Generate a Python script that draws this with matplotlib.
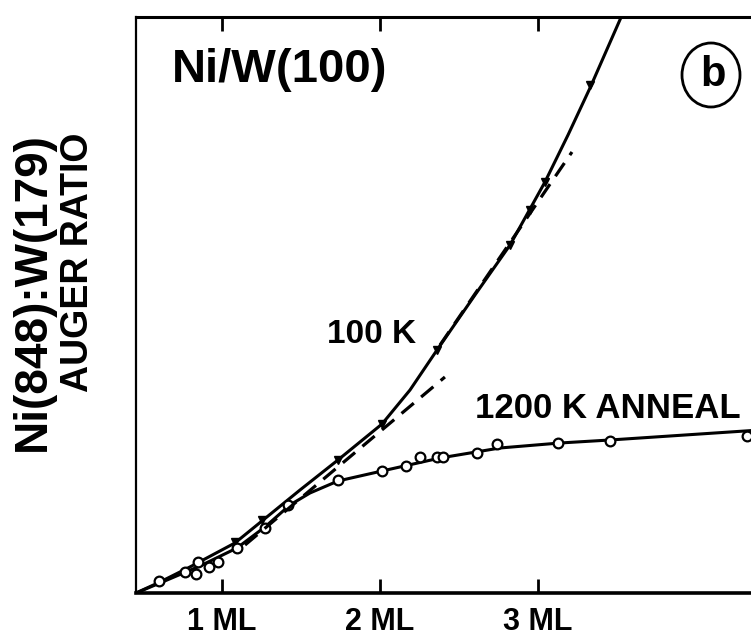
import matplotlib
matplotlib.use("Agg")
from matplotlib import pyplot as plt
from matplotlib.patches import Ellipse
import numpy as np

plt.rcParams["font.family"] = ["Liberation Sans", "DejaVu Sans"]
plt.rcParams["font.weight"] = "bold"

# coverage in ML, Auger ratio in arbitrary units
# 100 K deposition: measured points and hand-drawn curve
pts_100k_x = [1.082, 1.253, 1.734, 2.013, 2.361, 2.823, 2.949, 3.044, 3.329]
pts_100k_y = [0.51, 0.73, 1.33, 1.69, 2.43, 3.48, 3.83, 4.11, 5.08]
curve_100k_x = [0.456, 0.608, 0.797, 1.082, 1.253, 1.494, 1.734, 2.013, 2.190,
                2.361, 2.601, 2.823, 3.044, 3.190, 3.329, 3.532]
curve_100k_y = [0.0, 0.11, 0.26, 0.50, 0.72, 1.03, 1.33, 1.69, 2.03,
                2.43, 2.98, 3.48, 4.11, 4.58, 5.05, 5.78]

# 1200 K anneal
pts_1200k_x = [0.601, 0.766, 0.835, 0.848, 0.918, 0.975, 1.095, 1.272, 1.418,
               1.734, 2.013, 2.165, 2.253, 2.361, 2.399, 2.614, 2.741, 3.127,
               3.456, 4.323]
pts_1200k_y = [0.12, 0.21, 0.19, 0.31, 0.26, 0.31, 0.45, 0.65, 0.88,
               1.13, 1.22, 1.27, 1.36, 1.36, 1.36, 1.40, 1.49, 1.50,
               1.52, 1.57]
curve_1200k_x = [0.456, 0.608, 0.861, 1.095, 1.272, 1.430, 1.557, 1.734, 2.013,
                 2.380, 2.759, 3.139, 3.456, 4.405]
curve_1200k_y = [0.0, 0.10, 0.27, 0.45, 0.66, 0.88, 1.00, 1.12, 1.22,
                 1.35, 1.45, 1.50, 1.53, 1.63]

# dashed linear extrapolations (layer-by-layer breaks)
dash1_x = [1.146, 2.411]
dash1_y = [0.48, 2.16]
dash2_x = [2.380, 3.215]
dash2_y = [2.48, 4.41]

tick_pos = [1, 2, 3]
tick_labels = ["1 ML", "2 ML", "3 ML"]

fig = plt.figure(figsize=(7.51, 6.39), dpi=100)
ax = fig.add_axes([0.1811, 0.0720, 0.8309, 0.9014])

ax.plot(curve_100k_x, curve_100k_y, color="black", lw=2.2)
ax.plot(pts_100k_x, pts_100k_y, ls="none", marker="v", ms=6, color="black")
ax.plot(curve_1200k_x, curve_1200k_y, color="black", lw=2.2)
ax.plot(pts_1200k_x, pts_1200k_y, ls="none", marker="o", ms=7,
        mfc="white", mec="black", mew=1.6)
ax.plot(dash1_x, dash1_y, color="black", lw=2.3, ls=(0, (5, 3)))
ax.plot(dash2_x, dash2_y, color="black", lw=2.3, ls=(0, (5, 3)))

ax.set_xlim(0.456, 4.405)
ax.set_ylim(0, 5.76)
ax.set_xticks(tick_pos)
ax.set_xticklabels(tick_labels, fontsize=22, fontweight="bold")
ax.set_yticks([])
ax.tick_params(axis="x", direction="in", length=10, width=2, top=True,
               pad=10)
ax.spines["left"].set_linewidth(1.6)
ax.spines["bottom"].set_linewidth(2.6)
ax.spines["top"].set_linewidth(2.2)
ax.spines["right"].set_visible(False)

# y-axis title, two rotated lines ending at the same height
fig.text(33 / 751, 1 - 132 / 639, "Ni(848):W(179)", rotation=90,
         ha="center", va="top", fontsize=33, fontweight="bold")
fig.text(78 / 751, 1 - 132 / 639, "AUGER RATIO", rotation=90,
         ha="center", va="top", fontsize=27, fontweight="bold")

fig.text(172 / 751, 1 - 82 / 639, "Ni/W(100)", ha="left", va="baseline",
         fontsize=34, fontweight="bold")
fig.text(327 / 751, 1 - 343 / 639, "100 K", ha="left", va="baseline",
         fontsize=24, fontweight="bold")
fig.text(475 / 751, 1 - 418 / 639, "1200 K ANNEAL", ha="left",
         va="baseline", fontsize=25, fontweight="bold")

# panel label in a circle
fig.patches.append(Ellipse((711 / 751, 1 - 75 / 639), 58 / 751, 64 / 639,
                           transform=fig.transFigure, fill=False,
                           edgecolor="black", lw=2))
fig.text(713 / 751, 1 - 75 / 639, "b", ha="center", va="center",
         fontsize=30, fontweight="bold")

fig.savefig("out.png", dpi=100)
